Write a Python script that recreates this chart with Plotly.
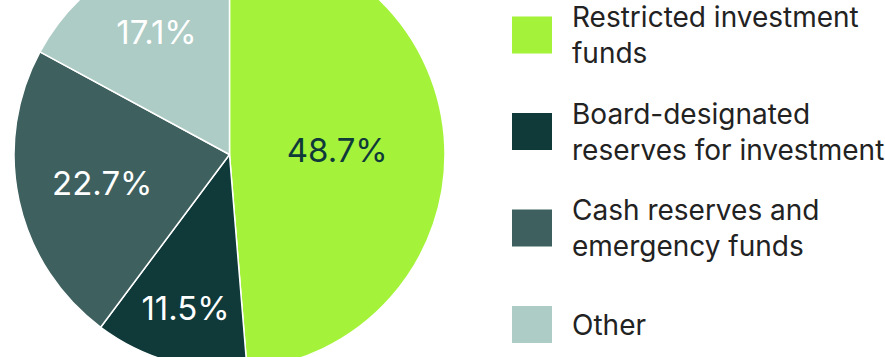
import plotly.graph_objects as go

labels = ["Restricted investment funds", "Board-designated reserves for investment",
          "Cash reserves and emergency funds", "Other"]
legend_text = ["Restricted investment<br>funds", "Board-designated<br>reserves for investment",
               "Cash reserves and<br>emergency funds", "Other"]
values = [48.7, 11.5, 22.7, 17.1]
colors = ["#A4F33A", "#10393A", "#3E605E", "#ADCCC5"]
text_colors = ["#10393A", "#FFFFFF", "#FFFFFF", "#FFFFFF"]

W, H = 885, 431
SHIFT = 61  # page offset so the pie is cropped like the reference

fig = go.Figure(go.Pie(
    labels=labels, values=values, sort=False, direction="clockwise", rotation=0,
    marker=dict(colors=colors, line=dict(color="white", width=1.5)),
    texttemplate="%{value:.1f}%", textposition="inside",
    insidetextorientation="horizontal",
    textfont=dict(family="Inter", size=33, color=text_colors),
    domain=dict(x=[14 / W, 445 / W], y=[0, 1]),
    showlegend=False, hoverinfo="label+percent",
))

def py(yv):
    return 1 - (yv + SHIFT) / H

shapes, annotations = [], []
y0, step = 35, 96.5
for i, (t, c) in enumerate(zip(legend_text, colors)):
    yc = y0 + i * step
    shapes.append(dict(type="rect", xref="paper", yref="paper",
                       x0=512 / W, x1=552 / W, y0=py(yc + 18.5), y1=py(yc - 18.5),
                       fillcolor=c, line=dict(width=0)))
    annotations.append(dict(xref="paper", yref="paper", x=570 / W, y=py(yc),
                            xanchor="left", yanchor="middle", align="left",
                            text=t, showarrow=False,
                            font=dict(family="Inter", size=28, color="#222222")))

fig.update_layout(width=W, height=H, margin=dict(l=0, r=0, t=0, b=0),
                  paper_bgcolor="white", plot_bgcolor="white",
                  shapes=shapes, annotations=annotations)

fig.write_html("out.html", post_script=(
    "var gd=document.getElementById('{plot_id}');"
    "gd.style.marginTop='-%dpx';"
    "document.body.style.margin='0';document.body.style.overflow='hidden';" % SHIFT))
